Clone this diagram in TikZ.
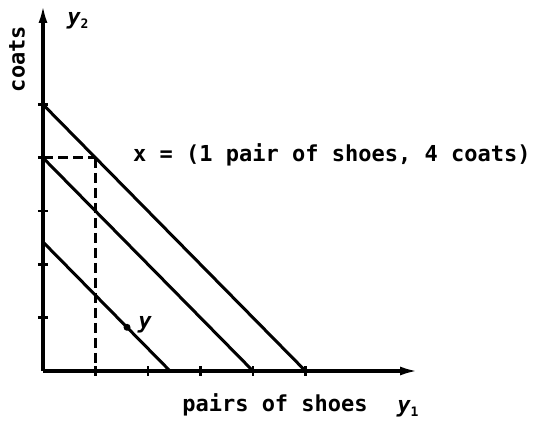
\documentclass[tikz,border=0pt]{standalone}
\usepackage{fontspec}
\setmonofont{DejaVu Sans Mono}
\usetikzlibrary{arrows.meta}
\begin{document}
\begin{tikzpicture}[x=52.5pt,y=53.3pt,
  axis/.style={line width=3.2pt,-{Latex[length=18pt,width=9pt]}},
  budget/.style={line width=3pt},
  tickmark/.style={line width=2.8pt},
  guide/.style={line width=2.8pt,dash pattern=on 10pt off 5pt},
  lbl/.style={font=\ttfamily\bfseries\fontsize{22pt}{24pt}\selectfont,inner sep=0pt}]
\useasboundingbox (-43pt,-56pt) rectangle (491pt,371pt);
% coordinates
\coordinate (O) at (0,0);
\coordinate (xend) at (375pt,0);
\coordinate (yend) at (0,366pt);
\coordinate (a5) at (0,5);
\coordinate (b5) at (5,0);
\coordinate (a4) at (0,4);
\coordinate (b4) at (4,0);
\coordinate (a2) at (0,2.42);
\coordinate (b2) at (2.42,0);
\coordinate (xp) at (1,4);
\coordinate (x1) at (1,0);
% axes
\draw[axis] (O) -- (xend);
\draw[axis] (O) -- (yend);
% ticks
\foreach \i in {1,...,5}{
  \draw[tickmark] (\i,0) ++(0,-5pt) -- ++(0,10pt);
  \draw[tickmark] (0,\i) ++(-5pt,0) -- ++(10pt,0);
}
% budget lines
\draw[budget] (a5) -- (b5);
\draw[budget] (a4) -- (b4);
\draw[budget] (a2) -- (b2);
% dashed guides
\draw[guide] (a4) -- (xp);
\draw[guide] (xp) -- (x1);
% point y
\node[circle,fill,inner sep=0pt,minimum size=7pt] (ydot) at (1.6,0.82) {};
% labels
\node[lbl,anchor=west] (xlab) at (90pt,216pt) {x = (1 pair of shoes, 4 coats)};
\node[lbl] (ylab) at (102pt,46pt) {\itshape y};
\node[lbl,rotate=90] (coats) at (-26pt,312pt) {coats};
\node[lbl,anchor=base] (shoes) at (232pt,-41pt) {pairs of shoes};
\node[lbl] (y1) at (365pt,-38pt) {\itshape y\raisebox{-0.35ex}{\fontsize{13pt}{14pt}\selectfont\upshape\bfseries 1}};
\node[lbl] (y2) at (35pt,350pt) {\itshape y\raisebox{-0.35ex}{\fontsize{13pt}{14pt}\selectfont\upshape\bfseries 2}};
\end{tikzpicture}
\end{document}
